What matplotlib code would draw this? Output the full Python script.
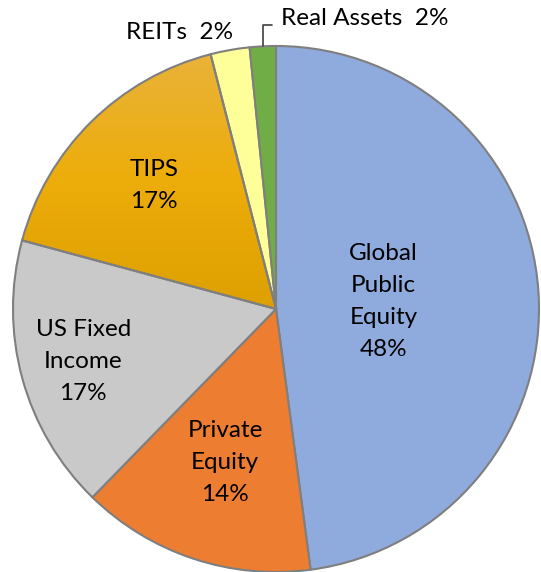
import numpy as np
import matplotlib.pyplot as plt
from matplotlib.colors import LinearSegmentedColormap

plt.rcParams["font.family"] = ["Lato", "DejaVu Sans"]

# asset allocation, clockwise from 12 o'clock
categories = ["Global\nPublic\nEquity", "Private\nEquity", "US Fixed\nIncome",
              "TIPS", "REITs", "Real Assets"]
shares = [47.9, 14.4, 16.9, 16.8, 2.4, 1.6]
colors = ["#8FAADC", "#ED7D31", "#C9C9C9", "#EBAE14", "#FFFF99", "#70AD47"]
tips_gradient = ["#E9B33F", "#EDAD0B", "#DDA000"]  # top -> bottom

# radial position of the inside labels (fraction of radius)
label_radius = [0.41, 0.615, 0.76, 0.66]

W, H = 541, 572
CX, CY, R = 276, 309, 263  # pie centre / radius in pixels
FS = 17.5

fig = plt.figure(figsize=(W / 100, H / 100), dpi=100)
ax = fig.add_axes([0, 0, 1, 1])

wedges, _ = ax.pie(
    shares,
    colors=colors,
    startangle=90,
    counterclock=False,
    wedgeprops=dict(edgecolor="#7F7F7F", linewidth=1.5),
)

# vertical gradient on the TIPS slice
tips = wedges[3]
cmap = LinearSegmentedColormap.from_list("tips", tips_gradient[::-1])
grad = np.linspace(0, 1, 256).reshape(-1, 1)
img = ax.imshow(grad, cmap=cmap, origin="lower", aspect="auto",
                extent=(-1.02, 0.02, -0.02, 1.02), zorder=0.5)
img.set_clip_path(tips)
tips.set_facecolor("none")
tips.set_zorder(1.5)

ax.set_xlim(-CX / R, (W - CX) / R)
ax.set_ylim(-(H - CY) / R, CY / R)
ax.set_aspect("equal")
ax.axis("off")


def pct(v):
    return f"{v:.0f}%"


for w, name, v, rr in zip(wedges[:4], categories[:4], shares[:4], label_radius):
    ang = np.deg2rad((w.theta1 + w.theta2) / 2)
    ax.text(rr * np.cos(ang), rr * np.sin(ang), f"{name}\n{pct(v)}",
            ha="center", va="center", fontsize=FS, linespacing=1.65, zorder=3)

# small slices: labels outside
w = wedges[4]
ang = np.deg2rad((w.theta1 + w.theta2) / 2)
ax.annotate(f"{categories[4]}  {pct(shares[4])}", xy=(np.cos(ang), np.sin(ang)),
            xytext=(3, 18), textcoords="offset pixels",
            ha="right", va="center", fontsize=FS)

w = wedges[5]
ang = np.deg2rad((w.theta1 + w.theta2) / 2)
ax.annotate(f"{categories[5]}  {pct(shares[5])}", xy=(np.cos(ang), np.sin(ang)),
            xytext=(18, 28), textcoords="offset pixels",
            ha="left", va="center", fontsize=FS,
            arrowprops=dict(arrowstyle="-", color="#404040", lw=1.2,
                            connectionstyle="angle,angleA=0,angleB=90,rad=0",
                            relpos=(0, 0.2), shrinkA=4, shrinkB=0))

fig.savefig("out.png", dpi=100)
